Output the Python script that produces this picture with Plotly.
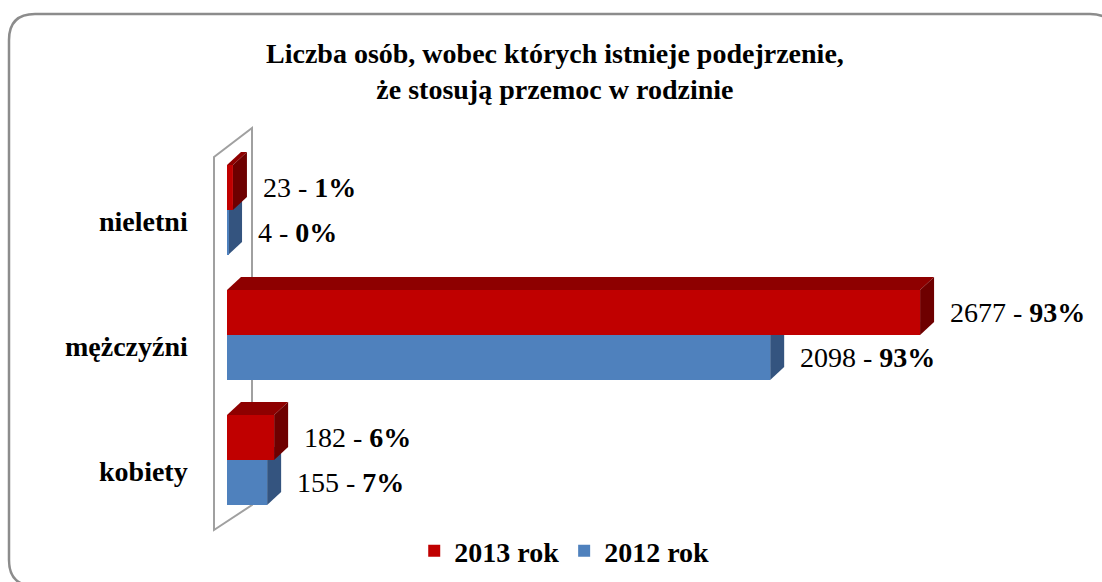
import plotly.graph_objects as go

# ---- data ----
categories = ["kobiety", "mężczyźni", "nieletni"]
series_names = ["2012 rok", "2013 rok"]
values_2012 = [155, 2098, 4]
values_2013 = [182, 2677, 23]
pct_2012 = ["7%", "93%", "0%"]
pct_2013 = ["6%", "93%", "1%"]
title_text = "Liczba osób, wobec których istnieje podejrzenie,<br>że stosują przemoc w rodzinie"

# ---- styling / layout constants ----
W, H = 1102, 582
RED, RED_TOP, RED_SIDE = "#C00000", "#8E0000", "#6E0000"
BLUE, BLUE_TOP, BLUE_SIDE = "#4F81BD", "#3A5F8C", "#34547F"
FONT = "Liberation Serif, Times New Roman, serif"

X_LEFT_PX = 227
PX_PER_UNIT_X = 0.2589
X_MAX = 3000
X_RIGHT_PX = X_LEFT_PX + X_MAX * PX_PER_UNIT_X
Y_TOP_PX, Y_BOT_PX = 147.5, 522.5
PX_PER_UNIT_Y = (Y_BOT_PX - Y_TOP_PX) / 3.0
BARGAP = 0.28
BW = (1 - BARGAP) / 2
DX = 14 / PX_PER_UNIT_X
DY = 13 / PX_PER_UNIT_Y

ypos = list(range(len(categories)))

fig = go.Figure()
fig.add_trace(go.Bar(name=f"<b>{series_names[0]}</b>", y=ypos, x=values_2012, orientation="h",
                     marker=dict(color=BLUE, line=dict(width=0)), cliponaxis=False))
fig.add_trace(go.Bar(name=f"<b>{series_names[1]}</b>", y=ypos, x=values_2013, orientation="h",
                     marker=dict(color=RED, line=dict(width=0)), cliponaxis=False))


def px(x):
    return x / W


def py(y):
    return 1 - y / H


shapes = []
# outer rounded frame
r = 26
fx0, fy0, fx1, fy1 = 9, 14, 1116, 586
frame = (f"M {px(fx0)},{py(fy0 + r)} Q {px(fx0)},{py(fy0)} {px(fx0 + r)},{py(fy0)} "
         f"L {px(fx1 - r)},{py(fy0)} Q {px(fx1)},{py(fy0)} {px(fx1)},{py(fy0 + r)} "
         f"L {px(fx1)},{py(fy1 - r)} Q {px(fx1)},{py(fy1)} {px(fx1 - r)},{py(fy1)} "
         f"L {px(fx0 + r)},{py(fy1)} Q {px(fx0)},{py(fy1)} {px(fx0)},{py(fy1 - r)} Z")
shapes.append(dict(type="path", xref="paper", yref="paper", path=frame,
                   line=dict(color="#8C8C8C", width=2.5), layer="below"))
# 3D wall
wall = (f"M {px(214)},{py(157)} L {px(252)},{py(128)} L {px(252)},{py(505)} "
        f"L {px(214)},{py(530)} Z")
shapes.append(dict(type="path", xref="paper", yref="paper", path=wall,
                   line=dict(color="#A0A0A0", width=2), fillcolor="rgba(0,0,0,0)", layer="below"))

# 3D faces for bars
for vals, off, top_c, side_c in [(values_2012, -BW / 2, BLUE_TOP, BLUE_SIDE),
                                 (values_2013, BW / 2, RED_TOP, RED_SIDE)]:
    for j, v in enumerate(vals):
        yc = ypos[j] + off
        y0, y1 = yc - BW / 2, yc + BW / 2
        top = (f"M 0,{y1} L {DX},{y1 + DY} L {v + DX},{y1 + DY} L {v},{y1} Z")
        side = (f"M {v},{y0} L {v},{y1} L {v + DX},{y1 + DY} L {v + DX},{y0 + DY} Z")
        shapes.append(dict(type="path", xref="x", yref="y", path=top,
                           fillcolor=top_c, line=dict(width=0), layer="below"))
        shapes.append(dict(type="path", xref="x", yref="y", path=side,
                           fillcolor=side_c, line=dict(width=0), layer="below"))

annotations = []
# title
annotations.append(dict(x=0.504, y=py(71), xref="paper", yref="paper",
                        text=f"<b>{title_text}</b>", showarrow=False,
                        xanchor="center", yanchor="middle", align="center",
                        font=dict(family=FONT, size=28, color="#000000")))
# value labels
for vals, pcts, off in [(values_2012, pct_2012, -BW / 2), (values_2013, pct_2013, BW / 2)]:
    for j, (v, p) in enumerate(zip(vals, pcts)):
        annotations.append(dict(x=v, y=ypos[j] + off, xref="x", yref="y",
                                text=f"{v} - <b>{p}</b>", showarrow=False,
                                xanchor="left", yanchor="middle", xshift=28,
                                font=dict(family=FONT, size=28, color="#000000")))
# category labels
for j, c in enumerate(categories):
    annotations.append(dict(x=px(190), y=ypos[j], xref="paper", yref="y",
                            text=f"<b>{c}</b>", showarrow=False, xanchor="right",
                            yanchor="middle", yshift=-11,
                            font=dict(family=FONT, size=28, color="#000000")))

fig.update_layout(
    width=W, height=H,
    margin=dict(l=0, r=0, t=0, b=0),
    paper_bgcolor="white", plot_bgcolor="rgba(0,0,0,0)",
    barmode="group", bargap=BARGAP, bargroupgap=0,
    xaxis=dict(range=[0, X_MAX], domain=[px(X_LEFT_PX), px(X_RIGHT_PX)],
               visible=False, fixedrange=True),
    yaxis=dict(range=[-0.5, 2.5], domain=[py(Y_BOT_PX), py(Y_TOP_PX)],
               visible=False, fixedrange=True),
    legend=dict(orientation="h", traceorder="reversed", x=0.512, xanchor="center",
                y=py(551), yanchor="middle",
                font=dict(family=FONT, size=28, color="#000000"),
                itemwidth=30),
    shapes=shapes,
    annotations=annotations,
    showlegend=True,
)

fig.write_html("out.html", post_script="document.body.style.margin='0';",
               config={"displayModeBar": False})
